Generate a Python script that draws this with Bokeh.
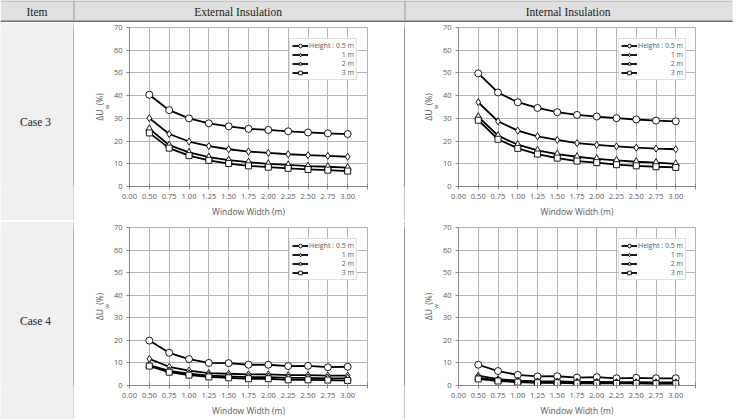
from bokeh.plotting import figure
from bokeh.layouts import column, row
from bokeh.models import FixedTicker, Legend, LegendItem, Range1d, Title, LinearAxis
from bokeh.core.properties import value
from bokeh.embed import file_html
from bokeh.resources import INLINE

# ---------------- data ----------------
width_labels = ["0.00", "0.50", "0.75", "1.00", "1.25", "1.50", "1.75",
                "2.00", "2.25", "2.50", "2.75", "3.00"]
data_widths = width_labels[1:]
heights = ["Height : 0.5 m", "1 m", "2 m", "3 m"]

case3_ext_05 = [40.4, 33.6, 30.0, 27.8, 26.5, 25.4, 24.9, 24.3, 23.8, 23.4, 23.1]
case3_ext_1 = [30.1, 23.1, 19.8, 17.8, 16.4, 15.4, 14.8, 14.2, 13.8, 13.5, 13.1]
case3_ext_2 = [25.4, 18.2, 15.0, 12.9, 11.6, 10.7, 10.0, 9.5, 9.0, 8.7, 8.3]
case3_ext_3 = [23.6, 16.9, 13.6, 11.5, 10.1, 9.1, 8.5, 8.0, 7.5, 7.2, 6.8]

case3_int_05 = [49.8, 41.4, 37.1, 34.6, 32.7, 31.5, 30.8, 30.1, 29.5, 29.0, 28.7]
case3_int_1 = [37.1, 28.7, 24.6, 22.1, 20.5, 19.1, 18.3, 17.7, 17.1, 16.7, 16.4]
case3_int_2 = [30.7, 22.4, 18.4, 15.9, 14.3, 13.1, 12.2, 11.5, 10.9, 10.5, 10.0]
case3_int_3 = [29.2, 20.8, 16.8, 14.3, 12.5, 11.2, 10.5, 9.6, 9.1, 8.7, 8.4]

case4_ext_05 = [19.9, 14.5, 11.7, 10.0, 9.9, 9.2, 9.2, 8.6, 8.7, 8.1, 8.3]
case4_ext_1 = [11.8, 8.3, 6.6, 5.5, 5.2, 4.9, 4.9, 4.6, 4.6, 4.4, 4.4]
case4_ext_2 = [9.0, 6.5, 5.2, 4.4, 4.0, 3.7, 3.7, 3.4, 3.4, 3.2, 3.2]
case4_ext_3 = [8.6, 5.9, 4.6, 3.8, 3.4, 3.0, 3.0, 2.5, 2.5, 2.4, 2.2]

case4_int_05 = [9.2, 6.4, 4.7, 4.0, 4.1, 3.5, 3.7, 3.2, 3.4, 3.2, 3.2]
case4_int_1 = [4.4, 2.8, 2.1, 1.8, 1.8, 1.6, 1.6, 1.5, 1.5, 1.4, 1.4]
case4_int_2 = [3.4, 2.3, 1.7, 1.4, 1.4, 1.2, 1.2, 1.1, 1.1, 1.0, 1.0]
case4_int_3 = [2.9, 2.0, 1.5, 1.2, 1.2, 1.0, 1.0, 0.9, 0.9, 0.8, 0.8]

y_ticks = [0, 10, 20, 30, 40, 50, 60, 70]
header_texts = ["Item", "External  Insulation", "Internal  Insulation"]
row_texts = ["Case  3", "Case  4"]

# ---------------- styles ----------------
SANS = "Open Sans"
SERIF = "Liberation Serif"
TXT = "#595959"
AX = "#868686"
GRID = "#b4b4b4"
HEAD_BG = "#e0e0e0"
LEFT_BG = "#f0f0f0"
DARK = "#6e6e6e"

markers = ["circle", "diamond", "triangle", "square"]
msizes = [7, 7, 7, 6]
NB = "\u00a0"
legend_labels = [heights[0]] + [NB * 18 + h for h in heights[1:]]

W0, W1, W2 = 73, 330, 331
RH = 198
BB = 34


def blank(w, h, bg, bt=0, bb=0):
    fh = max(h - bt - bb, 1)
    p = figure(width=w, height=h, output_backend="svg", toolbar_location=None,
               x_axis_type=None, y_axis_type=None, min_border=0, title=None,
               min_border_left=0, min_border_right=0, min_border_top=bt,
               min_border_bottom=bb,
               x_range=Range1d(0, max(w, 1)), y_range=Range1d(fh, 0))
    p.background_fill_color = bg
    p.border_fill_color = bg
    p.outline_line_color = None
    p.grid.visible = False
    return p


def hline(color, light_end=732):
    p = blank(736, 1, "white")
    p.quad(left=[0], right=[light_end], bottom=[0], top=[1], fill_color=color,
           line_color=None)
    return p


def left_cell(text, bt):
    # frame is aligned with the charts' frames, so offset by the top border
    p = blank(W0, RH, LEFT_BG, bt, BB)
    p.text(x=[W0 / 2], y=[RH / 2 - bt], text=[text], text_font=value(SERIF),
           text_font_size="11.5px", text_color="#222222", text_align="center",
           text_baseline="middle")
    return p


def vline(color, bt):
    return blank(1, RH, color, bt, BB)


def chart(w, bl, br, bt, bb, series):
    p = figure(width=w, height=RH, output_backend="svg", toolbar_location=None,
               x_range=Range1d(0, 12), y_range=Range1d(0, 70), title=None,
               min_border_left=bl, min_border_right=br, min_border_top=bt,
               min_border_bottom=bb)
    p.background_fill_color = "white"
    p.border_fill_color = "white"
    p.outline_line_color = GRID
    p.xgrid.grid_line_color = GRID
    p.ygrid.grid_line_color = GRID
    fh = RH - bt - bb

    xa = p.xaxis[0]
    xa.ticker = FixedTicker(ticks=list(range(13)))
    ov = {i: lab for i, lab in enumerate(width_labels)}
    ov[12] = ""
    xa.major_label_overrides = ov
    xa.axis_label = "Window Width (m)"
    ya = p.yaxis[0]
    ya.ticker = FixedTicker(ticks=y_ticks)
    sub = Title(text="w", align="left", offset=fh / 2 - 2.2, standoff=0,
                text_font=SANS, text_font_size="6px", text_color=TXT,
                text_font_style="normal", vertical_align="bottom")
    p.add_layout(sub, "left")
    lab_axis = LinearAxis(ticker=FixedTicker(ticks=[]),
                          axis_label="\u0394U" + NB * 2 + "(%)",
                          axis_label_standoff=-4)
    p.add_layout(lab_axis, "left")
    for a in (xa, ya, lab_axis):
        a.axis_line_color = AX if a is not lab_axis else None
        a.major_tick_line_color = AX if a is not lab_axis else None
        a.minor_tick_line_color = None
        a.major_label_text_color = TXT
        a.major_label_text_font = SANS
        a.major_label_text_font_size = "7.5px"
        a.axis_label_text_color = TXT
        a.axis_label_text_font = SANS
        a.axis_label_text_font_size = "8.5px"
        a.axis_label_text_font_style = "normal"
        a.major_label_standoff = 4
    xa.axis_label_standoff = 4
    xa.major_tick_in = 3
    xa.major_tick_out = 3
    ya.major_tick_in = 0
    ya.major_tick_out = 3

    xs = [width_labels.index(wd) for wd in data_widths]
    items = []
    for vals, mk, ms, lab in zip(series, markers, msizes, legend_labels):
        lr = p.line(xs, vals, line_color="black", line_width=1.8)
        sr = p.scatter(xs, vals, marker=mk, size=ms, fill_color="white",
                       line_color="black", line_width=0.9)
        items.append(LegendItem(label=lab, renderers=[lr, sr]))
    leg = Legend(items=items, location=(160, fh - 53),
                 label_text_font=SANS, label_text_font_size="7px",
                 label_text_color=TXT, glyph_width=16, glyph_height=9,
                 label_height=9, label_standoff=1, spacing=0, padding=2,
                 margin=0, border_line_color="#bfbfbf", background_fill_alpha=1)
    p.add_layout(leg)
    return p


# header
hdr = blank(736, 22, "white")
hdr.quad(left=[0], right=[732], top=[0], bottom=[22], fill_color=HEAD_BG,
         line_color=None)
hdr.segment(x0=[0], y0=[0.5], x1=[732], y1=[0.5], line_color="#a8a8a8",
            line_width=1)
hdr.quad(left=[0], right=[732], top=[20], bottom=[22], fill_color=DARK,
         line_color=None)
hdr.segment(x0=[W0 + 0.5, W0 + W1 + 1.5], y0=[0, 0], x1=[W0 + 0.5, W0 + W1 + 1.5],
            y1=[20, 20], line_color="#9a9a9a", line_width=1)
hdr.text(x=[W0 / 2, W0 + 1 + W1 / 2, W0 + W1 + 2 + 328 / 2], y=[11, 11, 11],
         text=header_texts, text_font=value(SERIF), text_font_size="11.5px",
         text_color="#222222", text_align="center", text_baseline="middle")

series_c3e = [case3_ext_05, case3_ext_1, case3_ext_2, case3_ext_3]
series_c3i = [case3_int_05, case3_int_1, case3_int_2, case3_int_3]
series_c4e = [case4_ext_05, case4_ext_1, case4_ext_2, case4_ext_3]
series_c4i = [case4_int_05, case4_int_1, case4_int_2, case4_int_3]

row1 = row(left_cell(row_texts[0], 5), vline(DARK, 5),
           chart(W1, 55, 37, 5, BB, series_c3e), vline("#222222", 5),
           chart(W2, 53, 41, 5, BB, series_c3i))
row2 = row(left_cell(row_texts[1], 6), vline(DARK, 6),
           chart(W1, 55, 37, 6, BB, series_c4e), vline("#222222", 6),
           chart(W2, 53, 41, 6, BB, series_c4i))

layout = column(hdr, row1, hline("#a8a8a8"), row2, hline(DARK))

open("out.html", "w").write(file_html(layout, INLINE))
